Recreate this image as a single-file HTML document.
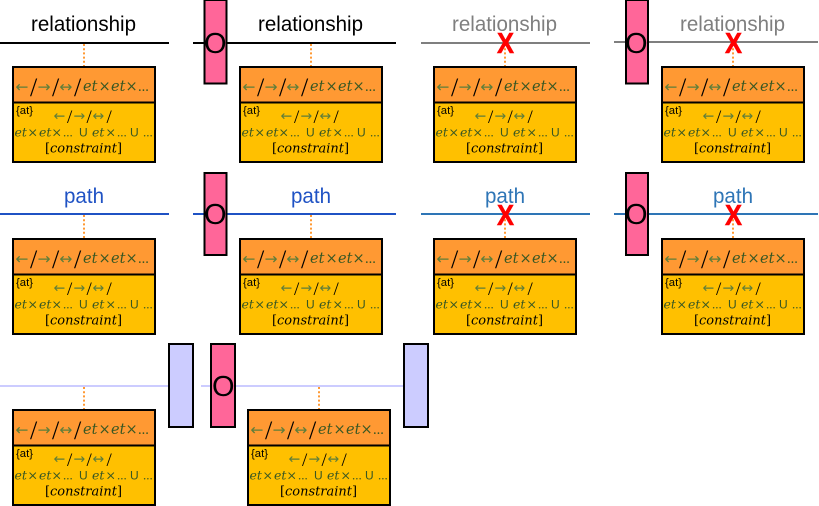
<!DOCTYPE html>
<html><head><meta charset="utf-8"><style>
html,body{margin:0;padding:0;background:#fff;width:819px;height:506px;overflow:hidden}
svg{display:block}
.h{font-family:"Liberation Sans",sans-serif;font-size:21px}
.o{font-family:"Liberation Sans",sans-serif;font-size:29px;fill:#000}
.x{font-family:"Liberation Sans",sans-serif;font-size:29px;font-weight:bold;fill:#f00;stroke:#f00;stroke-width:.6}
.m{font-family:"DejaVu Serif",serif;font-style:italic;fill:#385723;font-size:14.5px}
.n{font-family:"DejaVu Serif",serif;font-style:italic;fill:#385723;font-size:12.5px}
.a{font-family:"DejaVu Sans",sans-serif;font-style:normal;fill:#5d7d3a}
.s{font-family:"Liberation Serif",serif;font-style:normal;fill:#000}
.p{font-family:"Liberation Serif",serif;font-style:normal}
.u{font-family:"Liberation Sans",sans-serif;font-style:normal}
.at{font-family:"Liberation Sans",sans-serif;font-size:11px;fill:#000}
.c{font-family:"DejaVu Serif",serif;font-size:13px;fill:#000}
.c tspan{font-style:italic}
.d{stroke:#f93;stroke-width:2;stroke-dasharray:2 2.2}
.bx{stroke:#000;stroke-width:2}
</style></head><body>
<svg width="819" height="506" viewBox="0 0 819 506" xmlns="http://www.w3.org/2000/svg">

<!-- row 1 -->
<text class="h" x="31" y="31" textLength="105" lengthAdjust="spacingAndGlyphs" fill="#000">relationship</text>
<rect x="0" y="42" width="169" height="2" fill="#000"/>
<rect x="193" y="42" width="203" height="2" fill="#000"/>
<text class="h" x="258" y="31" textLength="105" lengthAdjust="spacingAndGlyphs" fill="#000">relationship</text>
<text class="h" x="452" y="31" textLength="105" lengthAdjust="spacingAndGlyphs" fill="#7f7f7f">relationship</text>
<rect x="421" y="42" width="169" height="2" fill="#7f7f7f"/>
<rect x="614" y="41" width="204" height="2" fill="#7f7f7f"/>
<text class="h" x="680" y="31" textLength="105" lengthAdjust="spacingAndGlyphs" fill="#7f7f7f">relationship</text>

<!-- row 2 -->
<text class="h" x="64" y="203" textLength="40" lengthAdjust="spacingAndGlyphs" fill="#1f52c4">path</text>
<rect x="0" y="213" width="169" height="2" fill="#1f52c4"/>
<rect x="193" y="213" width="203" height="2" fill="#1f52c4"/>
<text class="h" x="291" y="203" textLength="40" lengthAdjust="spacingAndGlyphs" fill="#1f52c4">path</text>
<text class="h" x="485" y="203" textLength="40" lengthAdjust="spacingAndGlyphs" fill="#2e75b6">path</text>
<rect x="421" y="213" width="169" height="2" fill="#2e75b6"/>
<rect x="614" y="213" width="204" height="2" fill="#2e75b6"/>
<text class="h" x="713" y="203" textLength="40" lengthAdjust="spacingAndGlyphs" fill="#2e75b6">path</text>

<!-- row 3 lines -->
<rect x="0" y="385" width="169" height="2" fill="#ccf"/>
<rect x="201" y="385" width="203" height="2" fill="#ccf"/>

<!-- connectors -->
<line class="d" x1="84" y1="44" x2="84" y2="66"/>
<line class="d" x1="311" y1="44" x2="311" y2="66"/>
<line class="d" x1="505" y1="44" x2="505" y2="66"/>
<line class="d" x1="733" y1="44" x2="733" y2="66"/>
<line class="d" x1="84" y1="215" x2="84" y2="238"/>
<line class="d" x1="311" y1="215" x2="311" y2="238"/>
<line class="d" x1="505" y1="215" x2="505" y2="238"/>
<line class="d" x1="733" y1="215" x2="733" y2="238"/>
<line class="d" x1="84" y1="387" x2="84" y2="409"/>
<line class="d" x1="319" y1="387" x2="319" y2="409"/>

<!-- side rects -->
<rect class="bx" x="204.500" y="0" width="22" height="83.500" fill="#f69"/>
<text class="o" x="204" y="53">O</text>
<rect class="bx" x="626" y="0" width="22" height="83.500" fill="#f69"/>
<text class="o" x="625" y="53">O</text>
<rect class="bx" x="204.500" y="173" width="22" height="82" fill="#f69"/>
<text class="o" x="204" y="224">O</text>
<rect class="bx" x="626" y="173" width="22" height="82" fill="#f69"/>
<text class="o" x="625" y="224">O</text>
<rect class="bx" x="169" y="344" width="24" height="83" fill="#ccf"/>
<rect class="bx" x="211" y="344" width="24" height="83" fill="#f69"/>
<text class="o" x="212" y="396">O</text>
<rect class="bx" x="404" y="344" width="24" height="83" fill="#ccf"/>

<!-- red X -->
<text class="x" x="497" y="53" textLength="17" lengthAdjust="spacingAndGlyphs">X</text>
<text class="x" x="725" y="53" textLength="17" lengthAdjust="spacingAndGlyphs">X</text>
<text class="x" x="497" y="225" textLength="17" lengthAdjust="spacingAndGlyphs">X</text>
<text class="x" x="725" y="225" textLength="17" lengthAdjust="spacingAndGlyphs">X</text>

<!-- boxes -->
<svg x="13" y="67" width="144" height="97" overflow="visible"><rect class="bx" x="0" y="0" width="142" height="95" fill="#ffc000"/><rect class="bx" x="0" y="0" width="142" height="35.500" fill="#f93"/>
<text class="m" y="25"><tspan class="a" font-size="15.500" x="2.500">←</tspan><tspan class="s" font-size="26" x="17" y="29">/</tspan><tspan class="a" font-size="15.500" x="24.500" y="25">→</tspan><tspan class="s" font-size="26" x="39" y="29">/</tspan><tspan class="a" font-size="15.500" x="46.500" y="25">↔</tspan><tspan class="s" font-size="26" x="61" y="29">/</tspan><tspan x="70" y="24">et</tspan><tspan x="85.500">×</tspan><tspan x="98">et</tspan><tspan x="112.500">×</tspan><tspan class="p" x="125">...</tspan></text>
<text class="at" x="3" y="47" textLength="17" lengthAdjust="spacingAndGlyphs">{at}</text>
<text class="n" y="53.500"><tspan class="a" font-size="14" x="40.500">←</tspan><tspan class="s" font-size="19" x="54" y="56">/</tspan><tspan class="a" font-size="14" x="60.500" y="53.500">→</tspan><tspan class="s" font-size="19" x="73.500" y="56">/</tspan><tspan class="a" font-size="14" x="79.500" y="53.500">↔</tspan><tspan class="s" font-size="19" x="93.500" y="56">/</tspan></text>
<text class="n" y="69.500"><tspan x="1.500">et</tspan><tspan x="14.500">×</tspan><tspan x="26">et</tspan><tspan x="38.500">×</tspan><tspan class="p" font-size="13" x="50">...</tspan><tspan class="u" font-size="12" x="66">U</tspan><tspan x="79">et</tspan><tspan x="92.500">×</tspan><tspan class="p" font-size="13" x="104">...</tspan><tspan class="u" font-size="12" x="117">U</tspan><tspan class="p" font-size="13" x="130">...</tspan></text>
<text class="c" x="32" y="85.500" textLength="77" lengthAdjust="spacingAndGlyphs">[<tspan>constraint</tspan>]</text></svg>

<svg x="240" y="67" width="144" height="97" overflow="visible"><rect class="bx" x="0" y="0" width="142" height="95" fill="#ffc000"/><rect class="bx" x="0" y="0" width="142" height="35.500" fill="#f93"/>
<text class="m" y="25"><tspan class="a" font-size="15.500" x="2.500">←</tspan><tspan class="s" font-size="26" x="17" y="29">/</tspan><tspan class="a" font-size="15.500" x="24.500" y="25">→</tspan><tspan class="s" font-size="26" x="39" y="29">/</tspan><tspan class="a" font-size="15.500" x="46.500" y="25">↔</tspan><tspan class="s" font-size="26" x="61" y="29">/</tspan><tspan x="70" y="24">et</tspan><tspan x="85.500">×</tspan><tspan x="98">et</tspan><tspan x="112.500">×</tspan><tspan class="p" x="125">...</tspan></text>
<text class="at" x="3" y="47" textLength="17" lengthAdjust="spacingAndGlyphs">{at}</text>
<text class="n" y="53.500"><tspan class="a" font-size="14" x="40.500">←</tspan><tspan class="s" font-size="19" x="54" y="56">/</tspan><tspan class="a" font-size="14" x="60.500" y="53.500">→</tspan><tspan class="s" font-size="19" x="73.500" y="56">/</tspan><tspan class="a" font-size="14" x="79.500" y="53.500">↔</tspan><tspan class="s" font-size="19" x="93.500" y="56">/</tspan></text>
<text class="n" y="69.500"><tspan x="1.500">et</tspan><tspan x="14.500">×</tspan><tspan x="26">et</tspan><tspan x="38.500">×</tspan><tspan class="p" font-size="13" x="50">...</tspan><tspan class="u" font-size="12" x="66">U</tspan><tspan x="79">et</tspan><tspan x="92.500">×</tspan><tspan class="p" font-size="13" x="104">...</tspan><tspan class="u" font-size="12" x="117">U</tspan><tspan class="p" font-size="13" x="130">...</tspan></text>
<text class="c" x="32" y="85.500" textLength="77" lengthAdjust="spacingAndGlyphs">[<tspan>constraint</tspan>]</text></svg>

<svg x="434" y="67" width="144" height="97" overflow="visible"><rect class="bx" x="0" y="0" width="142" height="95" fill="#ffc000"/><rect class="bx" x="0" y="0" width="142" height="35.500" fill="#f93"/>
<text class="m" y="25"><tspan class="a" font-size="15.500" x="2.500">←</tspan><tspan class="s" font-size="26" x="17" y="29">/</tspan><tspan class="a" font-size="15.500" x="24.500" y="25">→</tspan><tspan class="s" font-size="26" x="39" y="29">/</tspan><tspan class="a" font-size="15.500" x="46.500" y="25">↔</tspan><tspan class="s" font-size="26" x="61" y="29">/</tspan><tspan x="70" y="24">et</tspan><tspan x="85.500">×</tspan><tspan x="98">et</tspan><tspan x="112.500">×</tspan><tspan class="p" x="125">...</tspan></text>
<text class="at" x="3" y="47" textLength="17" lengthAdjust="spacingAndGlyphs">{at}</text>
<text class="n" y="53.500"><tspan class="a" font-size="14" x="40.500">←</tspan><tspan class="s" font-size="19" x="54" y="56">/</tspan><tspan class="a" font-size="14" x="60.500" y="53.500">→</tspan><tspan class="s" font-size="19" x="73.500" y="56">/</tspan><tspan class="a" font-size="14" x="79.500" y="53.500">↔</tspan><tspan class="s" font-size="19" x="93.500" y="56">/</tspan></text>
<text class="n" y="69.500"><tspan x="1.500">et</tspan><tspan x="14.500">×</tspan><tspan x="26">et</tspan><tspan x="38.500">×</tspan><tspan class="p" font-size="13" x="50">...</tspan><tspan class="u" font-size="12" x="66">U</tspan><tspan x="79">et</tspan><tspan x="92.500">×</tspan><tspan class="p" font-size="13" x="104">...</tspan><tspan class="u" font-size="12" x="117">U</tspan><tspan class="p" font-size="13" x="130">...</tspan></text>
<text class="c" x="32" y="85.500" textLength="77" lengthAdjust="spacingAndGlyphs">[<tspan>constraint</tspan>]</text></svg>

<svg x="662" y="67" width="144" height="97" overflow="visible"><rect class="bx" x="0" y="0" width="142" height="95" fill="#ffc000"/><rect class="bx" x="0" y="0" width="142" height="35.500" fill="#f93"/>
<text class="m" y="25"><tspan class="a" font-size="15.500" x="2.500">←</tspan><tspan class="s" font-size="26" x="17" y="29">/</tspan><tspan class="a" font-size="15.500" x="24.500" y="25">→</tspan><tspan class="s" font-size="26" x="39" y="29">/</tspan><tspan class="a" font-size="15.500" x="46.500" y="25">↔</tspan><tspan class="s" font-size="26" x="61" y="29">/</tspan><tspan x="70" y="24">et</tspan><tspan x="85.500">×</tspan><tspan x="98">et</tspan><tspan x="112.500">×</tspan><tspan class="p" x="125">...</tspan></text>
<text class="at" x="3" y="47" textLength="17" lengthAdjust="spacingAndGlyphs">{at}</text>
<text class="n" y="53.500"><tspan class="a" font-size="14" x="40.500">←</tspan><tspan class="s" font-size="19" x="54" y="56">/</tspan><tspan class="a" font-size="14" x="60.500" y="53.500">→</tspan><tspan class="s" font-size="19" x="73.500" y="56">/</tspan><tspan class="a" font-size="14" x="79.500" y="53.500">↔</tspan><tspan class="s" font-size="19" x="93.500" y="56">/</tspan></text>
<text class="n" y="69.500"><tspan x="1.500">et</tspan><tspan x="14.500">×</tspan><tspan x="26">et</tspan><tspan x="38.500">×</tspan><tspan class="p" font-size="13" x="50">...</tspan><tspan class="u" font-size="12" x="66">U</tspan><tspan x="79">et</tspan><tspan x="92.500">×</tspan><tspan class="p" font-size="13" x="104">...</tspan><tspan class="u" font-size="12" x="117">U</tspan><tspan class="p" font-size="13" x="130">...</tspan></text>
<text class="c" x="32" y="85.500" textLength="77" lengthAdjust="spacingAndGlyphs">[<tspan>constraint</tspan>]</text></svg>

<svg x="13" y="239" width="144" height="97" overflow="visible"><rect class="bx" x="0" y="0" width="142" height="95" fill="#ffc000"/><rect class="bx" x="0" y="0" width="142" height="35.500" fill="#f93"/>
<text class="m" y="25"><tspan class="a" font-size="15.500" x="2.500">←</tspan><tspan class="s" font-size="26" x="17" y="29">/</tspan><tspan class="a" font-size="15.500" x="24.500" y="25">→</tspan><tspan class="s" font-size="26" x="39" y="29">/</tspan><tspan class="a" font-size="15.500" x="46.500" y="25">↔</tspan><tspan class="s" font-size="26" x="61" y="29">/</tspan><tspan x="70" y="24">et</tspan><tspan x="85.500">×</tspan><tspan x="98">et</tspan><tspan x="112.500">×</tspan><tspan class="p" x="125">...</tspan></text>
<text class="at" x="3" y="47" textLength="17" lengthAdjust="spacingAndGlyphs">{at}</text>
<text class="n" y="53.500"><tspan class="a" font-size="14" x="40.500">←</tspan><tspan class="s" font-size="19" x="54" y="56">/</tspan><tspan class="a" font-size="14" x="60.500" y="53.500">→</tspan><tspan class="s" font-size="19" x="73.500" y="56">/</tspan><tspan class="a" font-size="14" x="79.500" y="53.500">↔</tspan><tspan class="s" font-size="19" x="93.500" y="56">/</tspan></text>
<text class="n" y="69.500"><tspan x="1.500">et</tspan><tspan x="14.500">×</tspan><tspan x="26">et</tspan><tspan x="38.500">×</tspan><tspan class="p" font-size="13" x="50">...</tspan><tspan class="u" font-size="12" x="66">U</tspan><tspan x="79">et</tspan><tspan x="92.500">×</tspan><tspan class="p" font-size="13" x="104">...</tspan><tspan class="u" font-size="12" x="117">U</tspan><tspan class="p" font-size="13" x="130">...</tspan></text>
<text class="c" x="32" y="85.500" textLength="77" lengthAdjust="spacingAndGlyphs">[<tspan>constraint</tspan>]</text></svg>

<svg x="240" y="239" width="144" height="97" overflow="visible"><rect class="bx" x="0" y="0" width="142" height="95" fill="#ffc000"/><rect class="bx" x="0" y="0" width="142" height="35.500" fill="#f93"/>
<text class="m" y="25"><tspan class="a" font-size="15.500" x="2.500">←</tspan><tspan class="s" font-size="26" x="17" y="29">/</tspan><tspan class="a" font-size="15.500" x="24.500" y="25">→</tspan><tspan class="s" font-size="26" x="39" y="29">/</tspan><tspan class="a" font-size="15.500" x="46.500" y="25">↔</tspan><tspan class="s" font-size="26" x="61" y="29">/</tspan><tspan x="70" y="24">et</tspan><tspan x="85.500">×</tspan><tspan x="98">et</tspan><tspan x="112.500">×</tspan><tspan class="p" x="125">...</tspan></text>
<text class="at" x="3" y="47" textLength="17" lengthAdjust="spacingAndGlyphs">{at}</text>
<text class="n" y="53.500"><tspan class="a" font-size="14" x="40.500">←</tspan><tspan class="s" font-size="19" x="54" y="56">/</tspan><tspan class="a" font-size="14" x="60.500" y="53.500">→</tspan><tspan class="s" font-size="19" x="73.500" y="56">/</tspan><tspan class="a" font-size="14" x="79.500" y="53.500">↔</tspan><tspan class="s" font-size="19" x="93.500" y="56">/</tspan></text>
<text class="n" y="69.500"><tspan x="1.500">et</tspan><tspan x="14.500">×</tspan><tspan x="26">et</tspan><tspan x="38.500">×</tspan><tspan class="p" font-size="13" x="50">...</tspan><tspan class="u" font-size="12" x="66">U</tspan><tspan x="79">et</tspan><tspan x="92.500">×</tspan><tspan class="p" font-size="13" x="104">...</tspan><tspan class="u" font-size="12" x="117">U</tspan><tspan class="p" font-size="13" x="130">...</tspan></text>
<text class="c" x="32" y="85.500" textLength="77" lengthAdjust="spacingAndGlyphs">[<tspan>constraint</tspan>]</text></svg>

<svg x="434" y="239" width="144" height="97" overflow="visible"><rect class="bx" x="0" y="0" width="142" height="95" fill="#ffc000"/><rect class="bx" x="0" y="0" width="142" height="35.500" fill="#f93"/>
<text class="m" y="25"><tspan class="a" font-size="15.500" x="2.500">←</tspan><tspan class="s" font-size="26" x="17" y="29">/</tspan><tspan class="a" font-size="15.500" x="24.500" y="25">→</tspan><tspan class="s" font-size="26" x="39" y="29">/</tspan><tspan class="a" font-size="15.500" x="46.500" y="25">↔</tspan><tspan class="s" font-size="26" x="61" y="29">/</tspan><tspan x="70" y="24">et</tspan><tspan x="85.500">×</tspan><tspan x="98">et</tspan><tspan x="112.500">×</tspan><tspan class="p" x="125">...</tspan></text>
<text class="at" x="3" y="47" textLength="17" lengthAdjust="spacingAndGlyphs">{at}</text>
<text class="n" y="53.500"><tspan class="a" font-size="14" x="40.500">←</tspan><tspan class="s" font-size="19" x="54" y="56">/</tspan><tspan class="a" font-size="14" x="60.500" y="53.500">→</tspan><tspan class="s" font-size="19" x="73.500" y="56">/</tspan><tspan class="a" font-size="14" x="79.500" y="53.500">↔</tspan><tspan class="s" font-size="19" x="93.500" y="56">/</tspan></text>
<text class="n" y="69.500"><tspan x="1.500">et</tspan><tspan x="14.500">×</tspan><tspan x="26">et</tspan><tspan x="38.500">×</tspan><tspan class="p" font-size="13" x="50">...</tspan><tspan class="u" font-size="12" x="66">U</tspan><tspan x="79">et</tspan><tspan x="92.500">×</tspan><tspan class="p" font-size="13" x="104">...</tspan><tspan class="u" font-size="12" x="117">U</tspan><tspan class="p" font-size="13" x="130">...</tspan></text>
<text class="c" x="32" y="85.500" textLength="77" lengthAdjust="spacingAndGlyphs">[<tspan>constraint</tspan>]</text></svg>

<svg x="662" y="239" width="144" height="97" overflow="visible"><rect class="bx" x="0" y="0" width="142" height="95" fill="#ffc000"/><rect class="bx" x="0" y="0" width="142" height="35.500" fill="#f93"/>
<text class="m" y="25"><tspan class="a" font-size="15.500" x="2.500">←</tspan><tspan class="s" font-size="26" x="17" y="29">/</tspan><tspan class="a" font-size="15.500" x="24.500" y="25">→</tspan><tspan class="s" font-size="26" x="39" y="29">/</tspan><tspan class="a" font-size="15.500" x="46.500" y="25">↔</tspan><tspan class="s" font-size="26" x="61" y="29">/</tspan><tspan x="70" y="24">et</tspan><tspan x="85.500">×</tspan><tspan x="98">et</tspan><tspan x="112.500">×</tspan><tspan class="p" x="125">...</tspan></text>
<text class="at" x="3" y="47" textLength="17" lengthAdjust="spacingAndGlyphs">{at}</text>
<text class="n" y="53.500"><tspan class="a" font-size="14" x="40.500">←</tspan><tspan class="s" font-size="19" x="54" y="56">/</tspan><tspan class="a" font-size="14" x="60.500" y="53.500">→</tspan><tspan class="s" font-size="19" x="73.500" y="56">/</tspan><tspan class="a" font-size="14" x="79.500" y="53.500">↔</tspan><tspan class="s" font-size="19" x="93.500" y="56">/</tspan></text>
<text class="n" y="69.500"><tspan x="1.500">et</tspan><tspan x="14.500">×</tspan><tspan x="26">et</tspan><tspan x="38.500">×</tspan><tspan class="p" font-size="13" x="50">...</tspan><tspan class="u" font-size="12" x="66">U</tspan><tspan x="79">et</tspan><tspan x="92.500">×</tspan><tspan class="p" font-size="13" x="104">...</tspan><tspan class="u" font-size="12" x="117">U</tspan><tspan class="p" font-size="13" x="130">...</tspan></text>
<text class="c" x="32" y="85.500" textLength="77" lengthAdjust="spacingAndGlyphs">[<tspan>constraint</tspan>]</text></svg>

<svg x="13" y="410" width="144" height="97" overflow="visible"><rect class="bx" x="0" y="0" width="142" height="95" fill="#ffc000"/><rect class="bx" x="0" y="0" width="142" height="35.500" fill="#f93"/>
<text class="m" y="25"><tspan class="a" font-size="15.500" x="2.500">←</tspan><tspan class="s" font-size="26" x="17" y="29">/</tspan><tspan class="a" font-size="15.500" x="24.500" y="25">→</tspan><tspan class="s" font-size="26" x="39" y="29">/</tspan><tspan class="a" font-size="15.500" x="46.500" y="25">↔</tspan><tspan class="s" font-size="26" x="61" y="29">/</tspan><tspan x="70" y="24">et</tspan><tspan x="85.500">×</tspan><tspan x="98">et</tspan><tspan x="112.500">×</tspan><tspan class="p" x="125">...</tspan></text>
<text class="at" x="3" y="47" textLength="17" lengthAdjust="spacingAndGlyphs">{at}</text>
<text class="n" y="53.500"><tspan class="a" font-size="14" x="40.500">←</tspan><tspan class="s" font-size="19" x="54" y="56">/</tspan><tspan class="a" font-size="14" x="60.500" y="53.500">→</tspan><tspan class="s" font-size="19" x="73.500" y="56">/</tspan><tspan class="a" font-size="14" x="79.500" y="53.500">↔</tspan><tspan class="s" font-size="19" x="93.500" y="56">/</tspan></text>
<text class="n" y="69.500"><tspan x="1.500">et</tspan><tspan x="14.500">×</tspan><tspan x="26">et</tspan><tspan x="38.500">×</tspan><tspan class="p" font-size="13" x="50">...</tspan><tspan class="u" font-size="12" x="66">U</tspan><tspan x="79">et</tspan><tspan x="92.500">×</tspan><tspan class="p" font-size="13" x="104">...</tspan><tspan class="u" font-size="12" x="117">U</tspan><tspan class="p" font-size="13" x="130">...</tspan></text>
<text class="c" x="32" y="85.500" textLength="77" lengthAdjust="spacingAndGlyphs">[<tspan>constraint</tspan>]</text></svg>

<svg x="248" y="410" width="144" height="97" overflow="visible"><rect class="bx" x="0" y="0" width="142" height="95" fill="#ffc000"/><rect class="bx" x="0" y="0" width="142" height="35.500" fill="#f93"/>
<text class="m" y="25"><tspan class="a" font-size="15.500" x="2.500">←</tspan><tspan class="s" font-size="26" x="17" y="29">/</tspan><tspan class="a" font-size="15.500" x="24.500" y="25">→</tspan><tspan class="s" font-size="26" x="39" y="29">/</tspan><tspan class="a" font-size="15.500" x="46.500" y="25">↔</tspan><tspan class="s" font-size="26" x="61" y="29">/</tspan><tspan x="70" y="24">et</tspan><tspan x="85.500">×</tspan><tspan x="98">et</tspan><tspan x="112.500">×</tspan><tspan class="p" x="125">...</tspan></text>
<text class="at" x="3" y="47" textLength="17" lengthAdjust="spacingAndGlyphs">{at}</text>
<text class="n" y="53.500"><tspan class="a" font-size="14" x="40.500">←</tspan><tspan class="s" font-size="19" x="54" y="56">/</tspan><tspan class="a" font-size="14" x="60.500" y="53.500">→</tspan><tspan class="s" font-size="19" x="73.500" y="56">/</tspan><tspan class="a" font-size="14" x="79.500" y="53.500">↔</tspan><tspan class="s" font-size="19" x="93.500" y="56">/</tspan></text>
<text class="n" y="69.500"><tspan x="1.500">et</tspan><tspan x="14.500">×</tspan><tspan x="26">et</tspan><tspan x="38.500">×</tspan><tspan class="p" font-size="13" x="50">...</tspan><tspan class="u" font-size="12" x="66">U</tspan><tspan x="79">et</tspan><tspan x="92.500">×</tspan><tspan class="p" font-size="13" x="104">...</tspan><tspan class="u" font-size="12" x="117">U</tspan><tspan class="p" font-size="13" x="130">...</tspan></text>
<text class="c" x="32" y="85.500" textLength="77" lengthAdjust="spacingAndGlyphs">[<tspan>constraint</tspan>]</text></svg>

</svg>
</body></html>
